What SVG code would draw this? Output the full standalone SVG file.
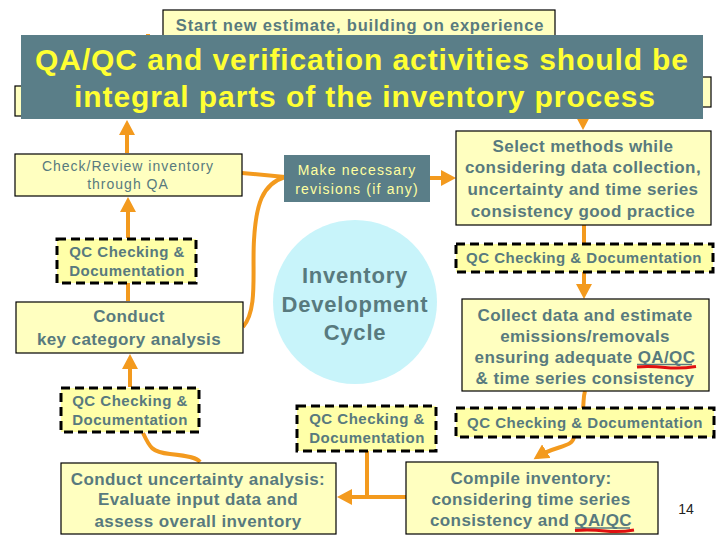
<svg xmlns="http://www.w3.org/2000/svg" width="720" height="540" viewBox="0 0 720 540">
<defs>
<marker id="arr" markerUnits="userSpaceOnUse" markerWidth="16" markerHeight="16" viewBox="0 0 16 16" refX="11" refY="8" orient="auto">
<path d="M0,0 L15,8 L0,16 z" fill="#f39a1e"/>
</marker>
<style>
.box{fill:#ffffc0;stroke:#000;stroke-width:1.2}
.qc{fill:#ffffa8;stroke:#000;stroke-width:3;stroke-dasharray:9 5}
.dark{fill:#5a7e88}
.t{font-family:"Liberation Sans",Arial,sans-serif;fill:#587a7e;text-anchor:middle}
.b17{font-size:17px;font-weight:bold;letter-spacing:0.4px}
.b15{font-size:15px;font-weight:bold;letter-spacing:0.5px}
.r14{font-size:14px;letter-spacing:1px}
.con{fill:none;stroke:#f39a1e;stroke-width:4}
.ban{font-family:"Liberation Sans",Arial,sans-serif;font-size:30px;font-weight:bold;letter-spacing:0.9px;fill:#ffff33;text-anchor:middle}
</style>
</defs>
<rect width="720" height="540" fill="#fff"/>
<g id="connectors">
<path class="con" d="M148,34 L148,60"/>
<path class="con" d="M127,153 L127,124" marker-end="url(#arr)"/>
<path class="con" d="M583,100 L583,126" marker-end="url(#arr)"/>
<path class="con" d="M128,238 L128,201" marker-end="url(#arr)"/>
<path class="con" d="M128,301 L128,283"/>
<path class="con" d="M242,173 L285,177"/>
<path class="con" d="M243,327 C258,310 252,272 254,240 C256,205 262,184 285,177"/>
<path class="con" d="M430,178 L452,178" marker-end="url(#arr)"/>
<path class="con" d="M584,225 L584,244"/>
<path class="con" d="M584,272 L584,295" marker-end="url(#arr)"/>
<path class="con" d="M585,391 C583,398 584,402 583,408"/>
<path class="con" d="M574,437 C572,448 556,445 537,457" marker-end="url(#arr)"/>
<path class="con" d="M367,451 L367,497"/>
<path class="con" d="M406,497 L341,497" marker-end="url(#arr)"/>
<path class="con" d="M130,387 L130,358" marker-end="url(#arr)"/>
<path class="con" d="M143,433 C150,448 152,452 170,454 C190,456 197,458 200,462"/>
</g>
<g id="start">
<rect class="box" x="163" y="10" width="392" height="40"/>
<text class="t" x="360" y="31" style="font-size:16.5px;font-weight:bold;letter-spacing:0.8px">Start new estimate, building on experience</text>
</g>
<g id="hidden-left"><rect class="box" x="15" y="86" width="150" height="30"/></g>
<g id="hidden-right"><rect class="box" x="560" y="77" width="151" height="30"/></g>
<g id="check">
<rect class="box" x="15" y="154" width="227" height="42"/>
<text class="t r14" x="128" y="171">Check/Review inventory</text>
<text class="t r14" x="128" y="189">through QA</text>
</g>
<g id="qc-left1">
<rect class="qc" x="57" y="239" width="139" height="44"/>
<text class="t b15" x="127" y="257">QC Checking &amp;</text>
<text class="t b15" x="127" y="276">Documentation</text>
</g>
<g id="conduct-kca">
<rect class="box" x="16" y="302" width="227" height="51"/>
<text class="t b17" x="129" y="322">Conduct</text>
<text class="t b17" x="129" y="345">key category analysis</text>
</g>
<g id="qc-left2">
<rect class="qc" x="61" y="388" width="138" height="44"/>
<text class="t b15" x="130" y="406">QC Checking &amp;</text>
<text class="t b15" x="130" y="425">Documentation</text>
</g>
<g id="uncertainty">
<rect class="box" x="61" y="463" width="275" height="71"/>
<text class="t b17" x="198" y="485">Conduct uncertainty analysis:</text>
<text class="t b17" x="198" y="505">Evaluate input data and</text>
<text class="t b17" x="198" y="527">assess overall inventory</text>
</g>
<g id="revisions">
<rect class="dark" x="284" y="155" width="146" height="47"/>
<text class="t" x="357" y="175" style="font-size:14px;letter-spacing:1.2px;fill:#ffffa0">Make necessary</text>
<text class="t" x="357" y="194" style="font-size:14px;letter-spacing:1.2px;fill:#ffffa0">revisions (if any)</text>
</g>
<g id="cycle">
<circle cx="355" cy="302" r="82" fill="#c8f4fa"/>
<text class="t" x="355" y="283" style="font-size:22px;font-weight:bold;letter-spacing:0.8px">Inventory</text>
<text class="t" x="355" y="312" style="font-size:22px;font-weight:bold;letter-spacing:0.8px">Development</text>
<text class="t" x="355" y="340" style="font-size:22px;font-weight:bold;letter-spacing:0.8px">Cycle</text>
</g>
<g id="qc-mid">
<rect class="qc" x="297" y="406" width="139" height="45"/>
<text class="t b15" x="367" y="424">QC Checking &amp;</text>
<text class="t b15" x="367" y="443">Documentation</text>
</g>
<g id="select">
<rect class="box" x="456" y="131" width="255" height="94"/>
<text class="t b17" x="583" y="152">Select methods while</text>
<text class="t b17" x="583" y="173">considering data collection,</text>
<text class="t b17" x="583" y="195">uncertainty and time series</text>
<text class="t b17" x="583" y="217">consistency good practice</text>
</g>
<g id="qc-right1">
<rect class="qc" x="456" y="244" width="257" height="28"/>
<text class="t b15" x="584" y="263">QC Checking &amp; Documentation</text>
</g>
<g id="collect">
<rect class="box" x="462" y="299" width="247" height="92"/>
<text class="t b17" x="585" y="321">Collect data and estimate</text>
<text class="t b17" x="585" y="342">emissions/removals</text>
<text class="t b17" x="585" y="363">ensuring adequate QA/QC</text>
<text class="t b17" x="585" y="384">&amp; time series consistency</text>
<path d="M637,364.5 L692,364.5" stroke="#587a7e" stroke-width="1.5"/>
<path d="M637,367 Q650,366 665,367.5 T696,366.5" stroke="#e01010" stroke-width="3" fill="none"/>
</g>
<g id="qc-right2">
<rect class="qc" x="456" y="408" width="258" height="29"/>
<text class="t b15" x="585" y="428">QC Checking &amp; Documentation</text>
</g>
<g id="compile">
<rect class="box" x="406" y="462" width="252" height="72"/>
<text class="t b17" x="531" y="484">Compile inventory:</text>
<text class="t b17" x="531" y="505">considering time series</text>
<text class="t b17" x="531" y="526">consistency and QA/QC</text>
<path d="M575,528 L630,528" stroke="#587a7e" stroke-width="1.5"/>
<path d="M575,530.5 Q590,529.5 605,531 T634,530" stroke="#e01010" stroke-width="3" fill="none"/>
</g>
<g id="page-number">
<text x="686" y="514" style="font-family:'Liberation Sans',Arial,sans-serif;font-size:14px;fill:#222;text-anchor:middle">14</text>
</g>
<g id="banner">
<rect class="dark" x="21" y="35" width="682" height="84"/>
<text class="ban" x="362" y="70">QA/QC and verification activities should be</text>
<text class="ban" x="365" y="107">integral parts of the inventory process</text>
</g>
</svg>
